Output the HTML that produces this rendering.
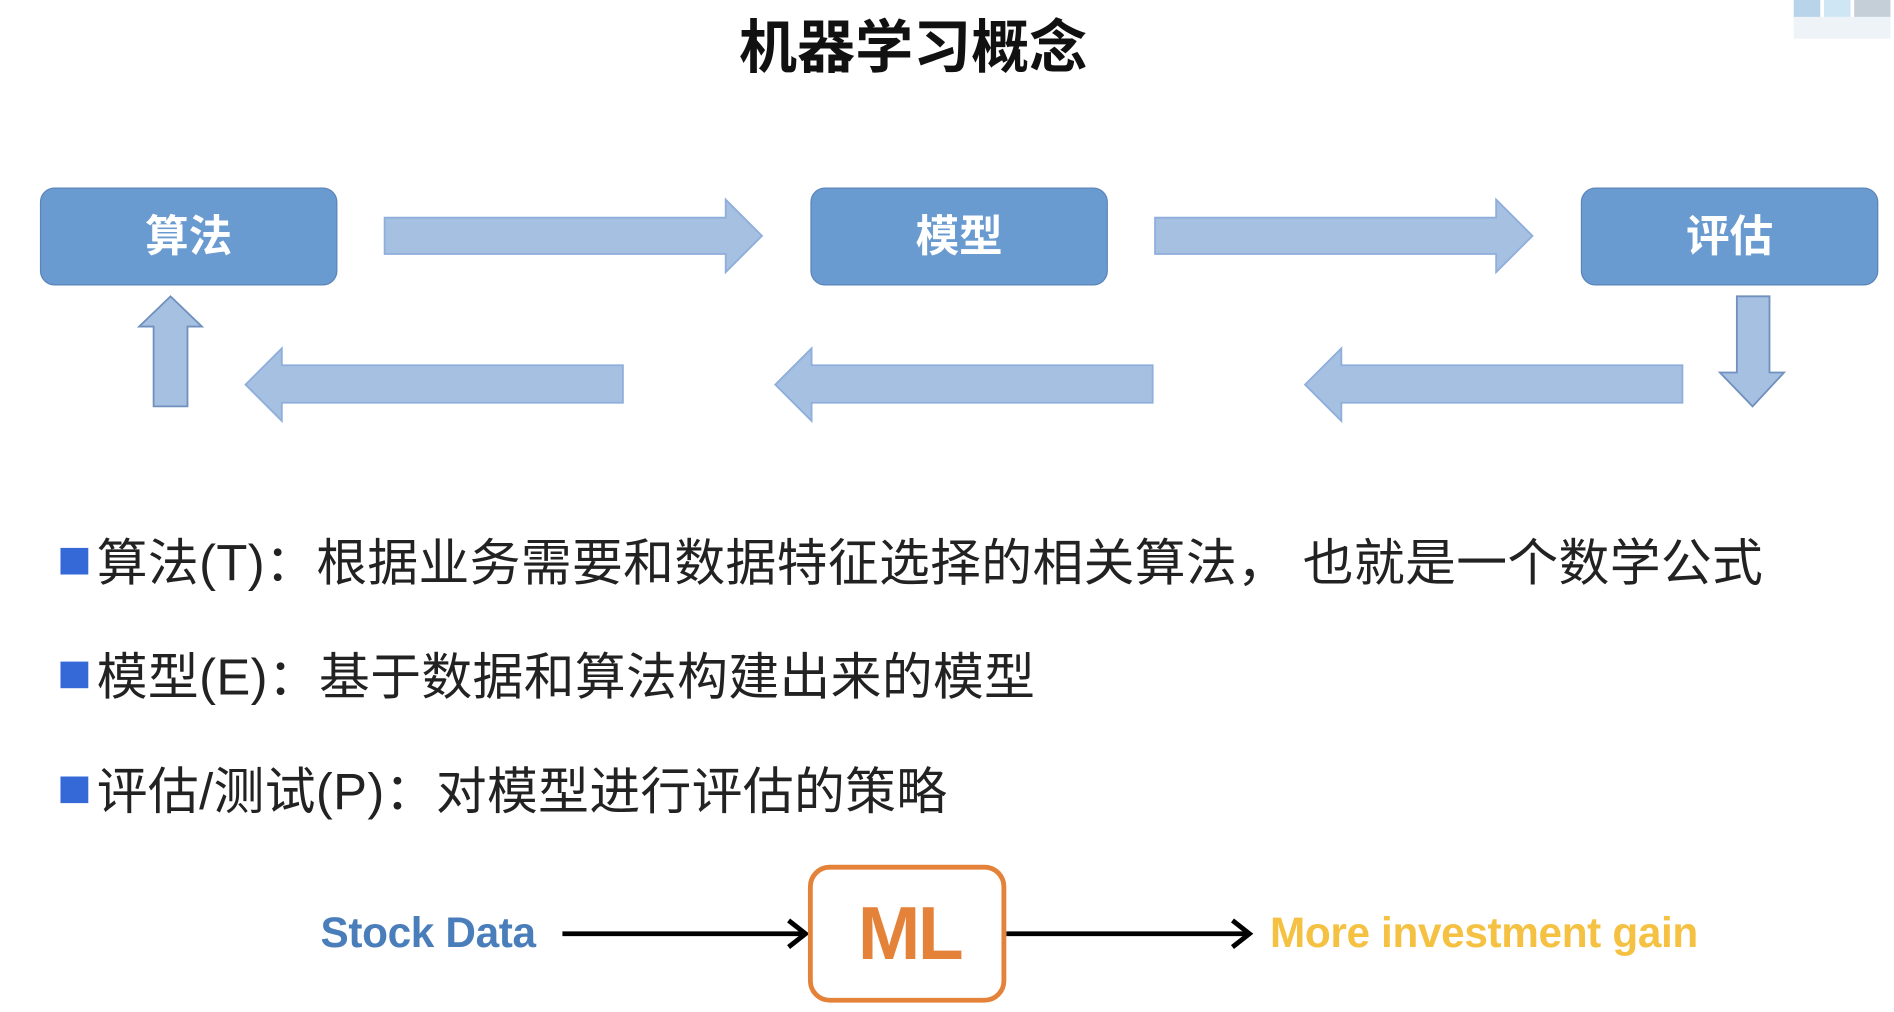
<!DOCTYPE html>
<html><head><meta charset="utf-8"><style>
html,body{margin:0;padding:0;background:#fff;width:1894px;height:1012px;overflow:hidden}
#w{position:absolute;left:0;top:0;width:1566px;height:837px;transform:scale(1.2095);transform-origin:0 0;font-family:"Liberation Sans","Noto Sans CJK SC",sans-serif}
.box{position:absolute;top:155px;width:244px;height:79px;background:#6a9bd0;border:1px solid #5a84b8;border-radius:12px;color:#fff;font-size:36px;text-align:center;line-height:79px;font-weight:bold}
.t{position:absolute;left:80px;font-size:42px;color:#222;white-space:nowrap;letter-spacing:0.3px}
.sq{position:absolute;left:50px;width:23px;height:22px;background:#3569d8}
</style></head><body><div id="w">
<div style="position:absolute;left:0;width:1510px;top:0px;text-align:center;font-size:48px;font-weight:bold;color:#111">机器学习概念</div>
<div style="position:absolute;left:1483px;top:0;width:22px;height:14px;background:#b8d4ea"></div>
<div style="position:absolute;left:1508px;top:0;width:22px;height:14px;background:#cfe6f5"></div>
<div style="position:absolute;left:1533px;top:0;width:30px;height:14px;background:#c4cfd8"></div>
<div style="position:absolute;left:1483px;top:14px;width:80px;height:18px;background:#eef3f7"></div>
<div class="box" style="left:33px">算法</div>
<div class="box" style="left:670px">模型</div>
<div class="box" style="left:1307px">评估</div>
<svg style="position:absolute;left:0;top:0" width="1566" height="837">
<g fill="#a6c0e2" stroke="#8eaedb" stroke-width="1.5">
<polygon points="318,180 600,180 600,165 630,195 600,225 600,210 318,210"/>
<polygon points="955,180 1237,180 1237,165 1267,195 1237,225 1237,210 955,210"/>
<polygon points="515,302 233,302 233,288 203,318 233,348 233,333 515,333"/>
<polygon points="953,302 671,302 671,288 641,318 671,348 671,333 953,333"/>
<polygon points="1391,302 1109,302 1109,288 1079,318 1109,348 1109,333 1391,333"/>
<polygon points="127,336 127,270 115,270 141,245 167,270 155,270 155,336" stroke="#7090bd"/>
<polygon points="1436,245 1463,245 1463,308 1475,308 1449,336 1422,308 1436,308" stroke="#7090bd"/>
</g>
<g stroke="#000" stroke-width="4" fill="none">
<line x1="465" y1="772" x2="664" y2="772"/><polyline points="652,761 666,772 652,783"/>
<line x1="832" y1="772" x2="1031" y2="772"/><polyline points="1019,761 1033,772 1019,783"/>
</g>
<rect x="670" y="717" width="160" height="110" rx="16" fill="#fff" stroke="#e5823a" stroke-width="4"/>
</svg>
<div class="sq" style="top:453px"></div>
<div class="t" style="top:432px">算法(T)：根据业务需要和数据特征选择的相关算法， 也就是一个数学公式</div>
<div class="sq" style="top:547px"></div>
<div class="t" style="top:526px">模型(E)：基于数据和算法构建出来的模型</div>
<div class="sq" style="top:642px"></div>
<div class="t" style="top:621px">评估/测试(P)：对模型进行评估的策略</div>
<div style="position:absolute;left:265px;top:752px;font-size:35px;font-weight:bold;color:#4a7ebb;letter-spacing:-0.3px;white-space:nowrap">Stock Data</div>
<div style="position:absolute;left:670px;width:164px;top:737px;text-align:center;font-size:62px;font-weight:bold;color:#e5823a;letter-spacing:-2px">ML</div>
<div style="position:absolute;left:1050px;top:752px;font-size:35px;font-weight:bold;color:#f5c142;letter-spacing:-0.3px;white-space:nowrap">More investment gain</div>
</div></body></html>
